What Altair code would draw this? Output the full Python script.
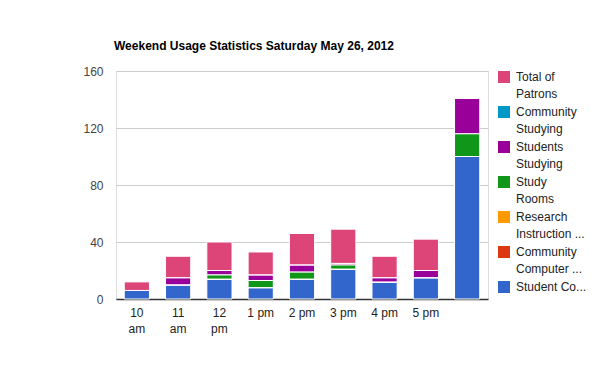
import altair as alt
import pandas as pd

categories = ["10 am", "11 am", "12 pm", "1 pm", "2 pm", "3 pm", "4 pm", "5 pm", "Total"]
series = ["Total of Patrons", "Community Studying", "Students Studying", "Study Rooms",
          "Research Instruction", "Community Computer", "Student Computer"]
colors = ["#dd4477", "#0099c6", "#990099", "#109618", "#ff9900", "#dc3912", "#3366cc"]

student_computer = [6, 10, 14, 8, 14, 21, 12, 15, 100]
community_computer = [0, 0, 0, 0, 0, 0, 0, 0, 0]
research_instruction = [0, 0, 0, 0, 0, 0, 0, 0, 0]
study_rooms = [0, 0, 3, 5, 5, 3, 0, 0, 16]
students_studying = [0, 5, 3, 4, 5, 1, 3, 5, 25]
community_studying = [0, 0, 0, 0, 0, 0, 0, 0, 0]
total_of_patrons = [6, 15, 20, 16, 22, 24, 15, 22, 0]

values = {
    "Student Computer": student_computer,
    "Community Computer": community_computer,
    "Research Instruction": research_instruction,
    "Study Rooms": study_rooms,
    "Students Studying": students_studying,
    "Community Studying": community_studying,
    "Total of Patrons": total_of_patrons,
}
stack_order = ["Student Computer", "Community Computer", "Research Instruction", "Study Rooms",
               "Students Studying", "Community Studying", "Total of Patrons"]

rows = []
for k, s in enumerate(stack_order):
    for c, v in zip(categories, values[s]):
        rows.append({"time": c, "series": s, "value": v, "k": k})
df = pd.DataFrame(rows)

x_label_expr = ("datum.label == '10 am' ? ['10', 'am'] : datum.label == '11 am' ? ['11', 'am'] : "
                "datum.label == '12 pm' ? ['12', 'pm'] : datum.label == 'Total' ? '' : datum.label")
leg_label_expr = ("datum.label == 'Total of Patrons' ? ['Total of', 'Patrons'] : "
                  "datum.label == 'Community Studying' ? ['Community', 'Studying'] : "
                  "datum.label == 'Students Studying' ? ['Students', 'Studying'] : "
                  "datum.label == 'Study Rooms' ? ['Study', 'Rooms'] : "
                  "datum.label == 'Research Instruction' ? ['Research', 'Instruction ...'] : "
                  "datum.label == 'Community Computer' ? ['Community', 'Computer ...'] : 'Student Co...'")

FONT = "Liberation Sans"

chart = alt.Chart(df).mark_bar(stroke="white", strokeWidth=1).encode(
    x=alt.X("time:N", sort=categories, title=None,
            scale=alt.Scale(paddingInner=0.39, paddingOuter=0.2),
            axis=alt.Axis(labelAngle=0, ticks=False, labelPadding=4, labelExpr=x_label_expr,
                          domainColor="#333333", domainWidth=1.5, labelColor="#222222",
                          labelFontSize=12, labelFont=FONT, labelLineHeight=16, grid=False)),
    y=alt.Y("value:Q", stack="zero", title=None,
            scale=alt.Scale(domain=[0, 160]),
            axis=alt.Axis(values=[0, 40, 80, 120, 160], domain=False, ticks=False, labelPadding=13,
                          labelBaseline="alphabetic",
                          gridColor="#cccccc", labelColor="#444444", labelFontSize=12, labelFont=FONT)),
    color=alt.Color("series:N", scale=alt.Scale(domain=series, range=colors),
                    legend=alt.Legend(title=None, orient="none", legendX=382, legendY=0,
                                      symbolType="square", symbolSize=144, symbolStrokeWidth=0,
                                      labelExpr=leg_label_expr, labelFontSize=12, labelFont=FONT,
                                      labelColor="#222222", labelBaseline="alphabetic",
                                      rowPadding=6, labelOffset=6, labelLimit=200)),
    order=alt.Order("k:Q", sort="ascending"),
).properties(
    width=372, height=228,
    autosize=alt.AutoSizeParams(type="none"),
    padding={"left": 108, "top": 63, "right": 104, "bottom": 64},
    title=alt.TitleParams("Weekend Usage Statistics Saturday May 26, 2012", anchor="start",
                          frame="group",
                          font=FONT, fontSize=12, fontWeight="bold", color="#000000",
                          offset=12, dx=-2),
).configure_view(stroke=None).configure(style={"guide-label": {"lineHeight": 17, "dy": 4}})

chart.save("out.html", embed_options={"renderer": "svg", "actions": False})
